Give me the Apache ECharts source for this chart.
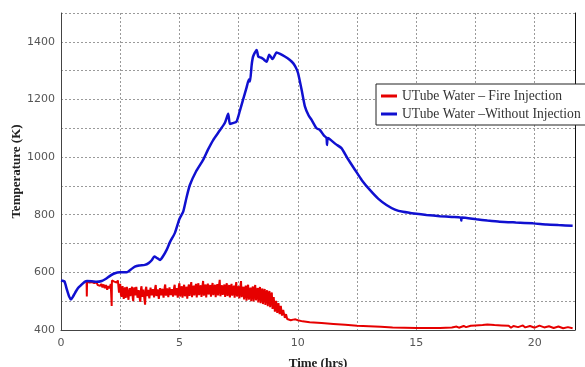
<!DOCTYPE html>
<html>
<head>
<meta charset="utf-8">
<script src="https://cdn.jsdelivr.net/npm/echarts@6/dist/echarts.min.js"></script>
<style>
  html, body { margin: 0; padding: 0; background: #fff; }
  #chart { width: 585px; height: 367px; }
</style>
</head>
<body>
<div id="chart"></div>
<script>
// Temperature of the U-tube water over time, with and without fire injection.
const seriesNames = ['UTube Water \u2013 Fire Injection', 'UTube Water \u2013Without Injection'];

// [time (hrs), temperature (K)] — without injection
const blueData = [
  [0,572],[0.1,570],[0.15,568],[0.25,540],[0.35,515],[0.42,506],[0.5,515],[0.6,530],
  [0.72,546],[0.85,556],[1.0,567],[1.1,570],[1.3,569],[1.5,567],[1.72,570],[1.9,578],
  [2.07,588],[2.25,596],[2.49,600],[2.77,600],[2.95,610],[3.12,620],[3.3,624],[3.54,626],
  [3.7,632],[3.83,642],[3.94,655],[4.05,650],[4.18,643],[4.3,655],[4.46,678],[4.6,705],
  [4.81,737],[5.0,785],[5.16,811],[5.3,860],[5.44,903],[5.7,950],[6.0,990],[6.2,1025],
  [6.43,1060],[6.7,1092],[6.92,1119],[7.06,1150],[7.13,1115],[7.25,1118],[7.41,1123],
  [7.55,1160],[7.69,1200],[7.83,1240],[7.9,1262],[7.95,1270],[7.98,1262],[8.05,1320],
  [8.11,1349],[8.26,1372],[8.33,1349],[8.45,1345],[8.54,1340],[8.68,1331],[8.79,1355],
  [8.93,1340],[9.1,1363],[9.25,1358],[9.45,1349],[9.65,1338],[9.8,1326],[9.92,1310],
  [10.01,1291],[10.16,1233],[10.3,1175],[10.45,1145],[10.58,1129],[10.79,1100],[10.93,1094],
  [11.1,1075],[11.21,1066],[11.23,1042],[11.26,1066],[11.35,1062],[11.6,1045],[11.84,1031],
  [12.1,995],[12.41,956],[12.7,920],[13.04,886],[13.4,855],[13.74,834],[14.1,818],
  [14.44,810],[15.0,803],[15.43,799],[16.0,795],[16.5,792],[16.88,790],[16.9,780],
  [16.92,790],[17.54,784],[18.0,780],[18.52,776],[19.2,773],[19.93,770],[20.5,766],
  [21.0,764],[21.6,762]
];

// [time (hrs), temperature (K)] — fire injection (noisy sensor trace)
const redData = [
  [1.08,570],[1.09,516],[1.10,567],[1.2,565],[1.3,566],[1.4,563],[1.5,565],[1.55,556],
  [1.6,562],[1.65,553],[1.7,560],[1.75,548],[1.8,558],[1.85,545],[1.9,556],[1.95,540],
  [2.0,552],[2.05,545],[2.1,560],[2.13,560],[2.14,483],[2.15,572],[2.2,575],[2.25,568],
  [2.3,574],[2.35,565],[2.4,572],[2.45,530],
  [2.50,560],[2.53,522],[2.55,515],[2.58,545],[2.60,552],[2.63,520],[2.65,508],[2.68,540],
  [2.70,548],[2.73,512],[2.75,520],[2.78,550],[2.80,555],[2.83,515],[2.85,505],[2.88,538],
  [2.90,545],[2.93,518],[2.95,512],[2.98,543],[3.00,550],[3.03,510],[3.05,500],[3.08,540],
  [3.10,548],[3.13,520],[3.15,515],[3.18,550],[3.20,556],[3.23,512],[3.25,506],[3.28,538],
  [3.30,544],[3.33,505],[3.35,498],[3.38,545],[3.40,552],[3.43,515],[3.45,510],[3.48,540],
  [3.50,546],[3.53,500],[3.55,488],[3.58,543],[3.60,550],[3.63,518],[3.65,512],[3.68,539],
  [3.70,545],[3.73,510],[3.75,505],[3.78,547],[3.80,553],[3.83,520],[3.85,515],[3.88,542],
  [3.90,548],[3.93,513],[3.95,508],[3.98,549],[4.00,556],[4.03,518],[4.05,512],[4.08,541],
  [4.10,547],[4.13,508],[4.15,503],[4.18,545],[4.20,551],[4.23,520],[4.25,516],[4.28,543],
  [4.30,549],[4.33,512],[4.35,507],[4.38,551],[4.40,558],[4.43,519],[4.45,514],[4.48,544],
  [4.50,550],[4.53,514],[4.55,509],[4.58,548],[4.60,554],[4.63,521],[4.65,517],[4.68,542],
  [4.70,548],[4.73,516],[4.75,511],[4.78,550],[4.80,557],[4.83,520],[4.85,515],[4.88,545],
  [4.90,551],[4.93,512],[4.95,506],[4.98,555],[5.00,562],
  [5.03,516],[5.05,510],[5.08,545],[5.10,552],[5.13,512],[5.15,507],[5.18,550],[5.20,557],
  [5.23,517],[5.25,511],[5.28,543],[5.30,550],[5.33,509],[5.35,503],[5.38,551],[5.40,558],
  [5.43,518],[5.45,513],[5.48,556],[5.50,566],[5.53,514],[5.55,509],[5.58,547],[5.60,554],
  [5.63,520],[5.65,515],[5.68,552],[5.70,560],[5.73,513],[5.75,507],[5.78,554],[5.80,562],
  [5.83,521],[5.85,517],[5.88,548],[5.90,555],[5.93,515],[5.95,510],[5.98,558],[6.00,570],
  [6.03,519],[6.05,514],[6.08,551],[6.10,558],[6.13,513],[6.15,508],[6.18,553],[6.20,561],
  [6.23,523],[6.25,519],[6.28,549],[6.30,556],[6.33,516],[6.35,511],[6.38,555],[6.40,563],
  [6.43,521],[6.45,516],[6.48,550],[6.50,557],[6.53,514],[6.55,509],[6.58,552],[6.60,559],
  [6.63,520],[6.65,515],[6.68,560],[6.70,574],[6.73,517],[6.75,512],[6.78,548],[6.80,555],
  [6.83,522],[6.85,517],[6.88,551],[6.90,558],[6.93,515],[6.95,510],[6.98,554],[7.00,562],
  [7.03,518],[7.05,513],[7.08,549],[7.10,556],[7.13,513],[7.15,508],[7.18,552],[7.20,560],
  [7.23,519],[7.25,514],[7.28,547],[7.30,554],[7.33,512],[7.35,507],[7.38,555],[7.40,566],
  [7.43,516],[7.45,511],[7.48,545],[7.50,552],[7.53,510],[7.55,505],[7.58,557],[7.60,570],
  [7.63,514],[7.65,509],[7.68,543],[7.70,550],[7.73,506],[7.75,501],[7.78,547],[7.80,554],
  [7.83,502],[7.85,496],[7.88,549],[7.90,557],[7.93,505],[7.95,499],[7.98,540],[8.00,547],
  [8.03,500],[8.05,495],[8.08,544],[8.10,551],[8.13,499],[8.15,494],[8.18,548],[8.20,556],
  [8.23,503],[8.25,498],[8.28,539],[8.30,546],[8.33,496],[8.35,491],[8.38,542],[8.40,549],
  [8.43,493],[8.45,488],[8.48,537],[8.50,544],[8.53,490],[8.55,485],[8.58,535],[8.60,542],
  [8.63,487],[8.65,482],[8.68,531],[8.70,538],[8.73,483],[8.75,478],[8.78,528],[8.80,535],
  [8.83,479],[8.85,474],[8.88,523],[8.90,530],[8.93,473],[8.95,468],[8.98,514],[9.00,520],
  [9.03,464],[9.05,459],[9.08,501],[9.10,507],[9.13,459],[9.15,454],[9.18,493],[9.20,499],
  [9.23,455],[9.25,450],[9.28,484],[9.30,490],[9.33,450],[9.35,446],[9.38,470],[9.40,476],
  [9.45,442],[9.50,455],[9.55,438],[9.60,436],
  [9.7,434],[9.8,436],[9.9,437],[10.0,434],[10.2,430],[10.5,427],[11.0,424],[11.5,421],
  [12.0,418],[12.5,415],[13.0,413],[13.5,411],[14.0,409],[14.5,408],[15.0,407],[15.5,407],
  [16.0,407],[16.5,409],[16.7,412],[16.8,408],[17.0,414],[17.1,410],[17.3,415],[17.5,416],
  [17.8,417],[18.0,419],[18.3,417],[18.6,416],[18.9,415],[19.0,408],[19.1,414],[19.3,410],
  [19.5,416],[19.6,409],[19.8,414],[20.0,408],[20.2,415],[20.4,409],[20.6,413],[20.8,407],
  [21.0,412],[21.2,406],[21.4,410],[21.6,406]
];

const xLabelTicks = [0, 5, 10, 15, 20];
const yLabelTicks = [400, 600, 800, 1000, 1200, 1400];

const chart = echarts.init(document.getElementById('chart'), null, { renderer: 'canvas' });

const gridLine = { show: true, lineStyle: { color: '#9a9a9a', type: [2, 2], width: 1 } };
const tickFont = { fontFamily: 'DejaVu Sans', fontSize: 11, color: '#555' };
const nameFont = { fontFamily: 'Liberation Serif', fontSize: 13, fontWeight: 'bold', color: '#222' };

chart.setOption({
  animation: false,
  backgroundColor: '#fff',
  grid: { left: 61, right: 10, top: 13, bottom: 37, outerBoundsMode: 'none', containLabel: false },
  legend: {
    orient: 'vertical',
    left: 376,
    top: 84,
    data: seriesNames,
    backgroundColor: '#fff',
    borderColor: '#222',
    borderWidth: 1,
    padding: [5, 8, 4, 5],
    itemGap: 4,
    itemWidth: 16,
    itemHeight: 3,
    icon: 'rect',
    textStyle: { fontFamily: 'Liberation Serif', fontSize: 13.6, color: '#333' }
  },
  xAxis: {
    type: 'value',
    min: 0,
    max: 21.7,
    interval: 2.5,
    name: 'Time (hrs)',
    nameLocation: 'middle',
    nameGap: 27,
    nameMoveOverlap: false,
    nameTextStyle: nameFont,
    axisLine: { show: true, onZero: false, lineStyle: { color: '#444', width: 1 } },
    axisTick: { show: false },
    axisLabel: Object.assign({
      margin: 8,
      showMaxLabel: false,
      formatter: v => xLabelTicks.includes(v) ? String(v) : ''
    }, tickFont),
    splitLine: gridLine
  },
  yAxis: [{
    type: 'value',
    min: 400,
    max: 1500,
    interval: 100,
    name: 'Temperature (K)',
    nameLocation: 'middle',
    nameGap: 38,
    nameMoveOverlap: false,
    nameTextStyle: nameFont,
    axisLine: { show: true, lineStyle: { color: '#444', width: 1 } },
    axisTick: { show: false },
    axisLabel: Object.assign({
      margin: 6,
      formatter: v => yLabelTicks.includes(v) ? String(v) : ''
    }, tickFont),
    splitLine: gridLine
  }, {
    type: 'value',
    position: 'right',
    min: 400,
    max: 1500,
    interval: 100,
    axisLine: { show: true, lineStyle: { color: '#111', width: 1 } },
    axisTick: { show: false },
    axisLabel: { show: false },
    splitLine: { show: false }
  }],
  series: [{
    name: seriesNames[0],
    type: 'line',
    data: redData,
    showSymbol: false,
    symbol: 'none',
    color: '#e60000',
    lineStyle: { color: '#e60000', width: 2 },
    z: 2
  }, {
    name: seriesNames[1],
    type: 'line',
    data: blueData,
    showSymbol: false,
    symbol: 'none',
    smooth: 0.2,
    color: '#1010d0',
    lineStyle: { color: '#1010d0', width: 2.5 },
    z: 3
  }]
});
</script>
</body>
</html>
